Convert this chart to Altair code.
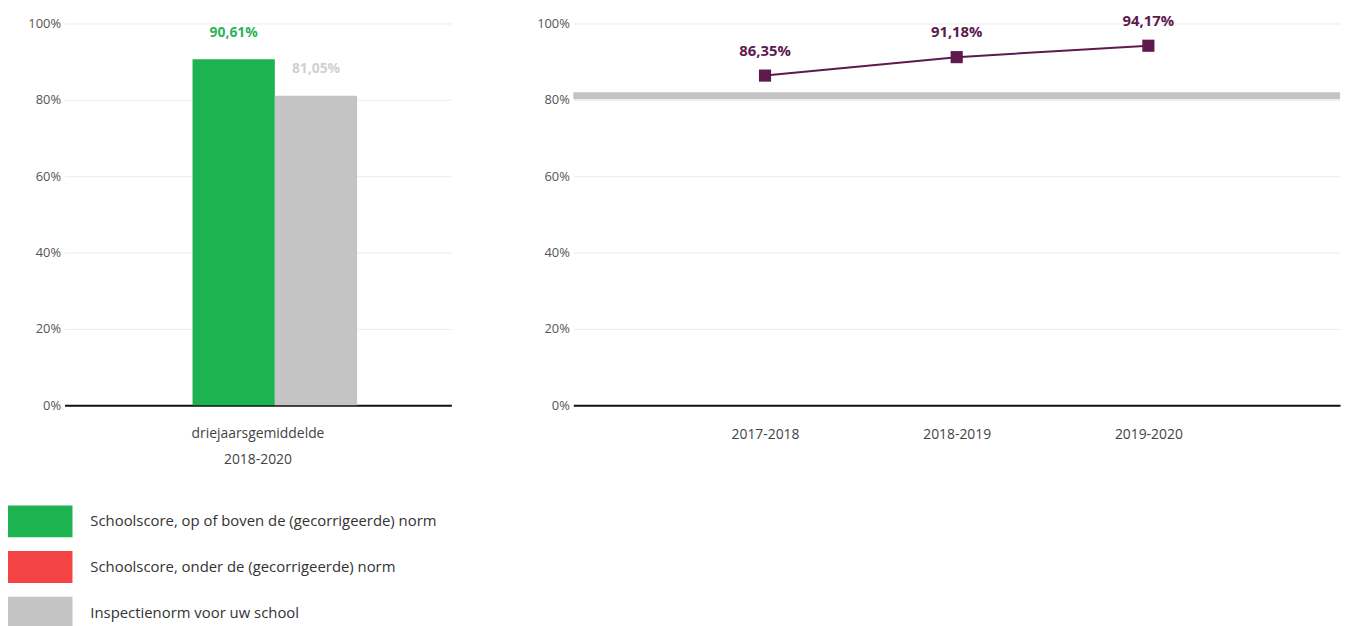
import altair as alt
import pandas as pd

# ---- data ----
bar_category = ["driejaarsgemiddelde 2018-2020"]
bar_series = ["Schoolscore", "Inspectienorm"]
bar_values = [90.61, 81.05]
bar_colors = ["#1db350", "#c4c4c4"]
bar_label_colors = ["#2db45a", "#d0d0d0"]

years = ["2017-2018", "2018-2019", "2019-2020"]
year_values = [86.35, 91.18, 94.17]
norm_values = [81.05]

legend_labels = [
    "Schoolscore, op of boven de (gecorrigeerde) norm",
    "Schoolscore, onder de (gecorrigeerde) norm",
    "Inspectienorm voor uw school",
]
legend_colors = ["#1db350", "#f34343", "#c4c4c4"]

y_ticks = [0, 20, 40, 60, 80, 100]

FONT = "Open Sans"
PURPLE = "#5e1a4f"

bars_df = pd.DataFrame({
    "cat": bar_category * len(bar_series),
    "series": bar_series,
    "value": bar_values,
})
line_df = pd.DataFrame({"year": years, "value": year_values})
norm_df = pd.DataFrame({"value": norm_values})
legend_df = pd.DataFrame({"label": legend_labels, "color": legend_colors})

fmt = "replace(format(datum.value, '.2f'), '.', ',') + '%'"

y_enc = alt.Y(
    "value:Q",
    scale=alt.Scale(domain=[0, 100]),
    axis=alt.Axis(values=y_ticks, labelExpr="datum.value + '%'", title=None,
                  domain=False, ticks=False, grid=True, gridColor="#ececec",
                  labelPadding=4, labelFontSize=13, labelColor="#555", labelFont=FONT),
)

# ---- left: bar chart ----
left_base = alt.Chart(bars_df).transform_calculate(lbl=fmt).encode(
    x=alt.X("cat:N", title=None,
            scale=alt.Scale(paddingInner=0, paddingOuter=0.675, align=0.576),
            axis=alt.Axis(labelAngle=0, labelExpr="split(datum.label, ' ')",
                          domain=True, domainColor="#111", domainWidth=2,
                          ticks=False, labelPadding=21, labelOffset=-17, labelFont=FONT,
                          labelFontSize=14, labelColor="#444", labelLineHeight=27)),
    xOffset=alt.XOffset("series:N", sort=bar_series),
    y=y_enc,
)
left_bars = left_base.mark_bar().encode(
    color=alt.Color("series:N", scale=alt.Scale(domain=bar_series, range=bar_colors), legend=None)
)
left_text = left_base.mark_text(dy=-27, fontSize=14, fontWeight="bold", font=FONT).encode(
    text="lbl:N",
    color=alt.Color("series:N", scale=alt.Scale(domain=bar_series, range=bar_label_colors), legend=None),
)
left = alt.layer(left_bars, left_text).resolve_scale(color="independent").properties(width=390, height=385)

# ---- right: line chart ----
x_right = alt.X("year:O", title=None, sort=years,
                scale=alt.Scale(type="point", padding=1),
                axis=alt.Axis(labelAngle=0, domain=True, domainColor="#111", domainWidth=2,
                              ticks=False, labelPadding=22, labelFontSize=14, labelColor="#444",
                              labelFont=FONT))
norm_rule = alt.Chart(norm_df).mark_rule(color="#c4c4c4", strokeWidth=7).encode(y=y_enc)
line = alt.Chart(line_df).mark_line(color=PURPLE, strokeWidth=2).encode(x=x_right, y=y_enc)
pts = alt.Chart(line_df).mark_point(shape="square", filled=True, size=150, color=PURPLE, opacity=1).encode(x=x_right, y=y_enc)
ptxt = alt.Chart(line_df).transform_calculate(lbl=fmt).mark_text(
    dy=-25, fontSize=15, fontWeight="bold", color=PURPLE, font=FONT
).encode(x=x_right, y=y_enc, text="lbl:N")
right = alt.layer(norm_rule, line, pts, ptxt).properties(width=773, height=385)

top = alt.hconcat(left, right, spacing=85)

# ---- legend ----
leg_y = alt.Y("label:N", sort=legend_labels, axis=None,
              scale=alt.Scale(paddingInner=0.3, paddingOuter=0.15))
leg_rect = alt.Chart(legend_df).mark_rect().encode(
    y=leg_y, x=alt.value(-57), x2=alt.value(8),
    color=alt.Color("color:N", scale=None),
)
leg_text = alt.Chart(legend_df).mark_text(align="left", fontSize=15, color="#333", font=FONT).encode(
    y=leg_y, x=alt.value(26), text="label:N"
)
legend = alt.layer(leg_rect, leg_text).properties(width=460, height=138)

chart = alt.vconcat(top, legend, spacing=32).configure(
    padding={"left": 0, "top": 3, "right": 0, "bottom": 0},
    view=alt.ViewConfig(stroke=None),
)

chart.save("out.html", embed_options={"renderer": "svg", "actions": False})
